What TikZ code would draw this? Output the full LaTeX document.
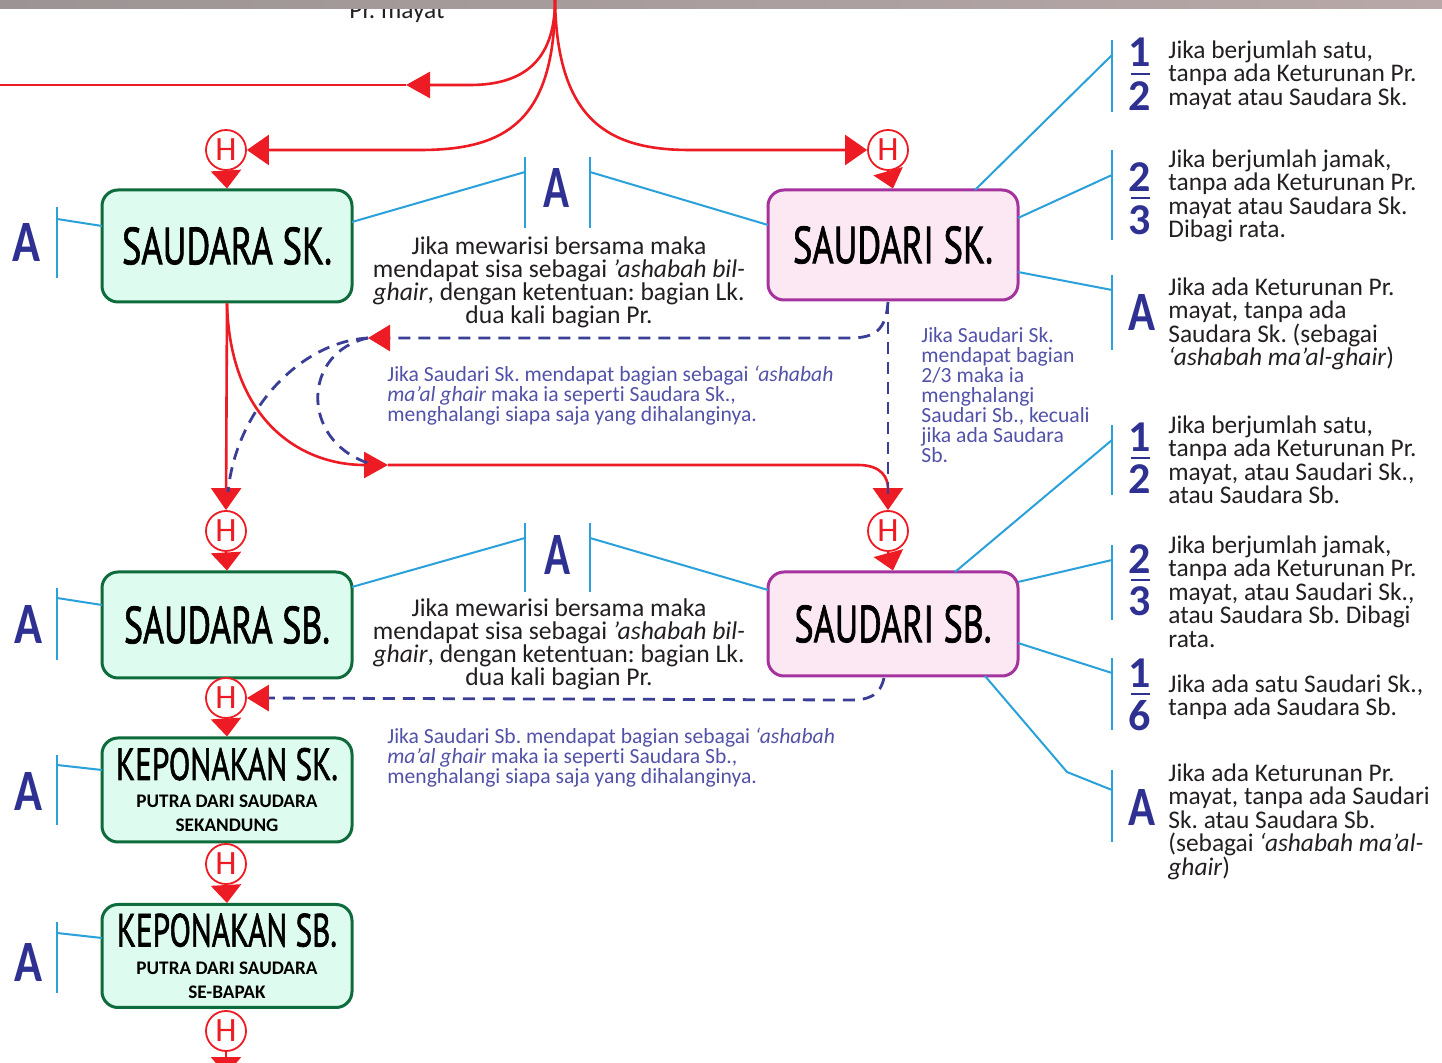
\documentclass[tikz,border=0pt]{standalone}
\usepackage{fontspec}
\setmainfont{Carlito}[Ligatures=NoCommon]
\newfontfamily\ttlfont{PT Sans}[FakeBold=1.6]
\usetikzlibrary{arrows.meta}
\frenchspacing
\definecolor{hred}{HTML}{ED1C24}
\definecolor{cyanln}{HTML}{2AA1DA}
\definecolor{navy}{HTML}{2E3192}
\definecolor{dnav}{HTML}{3A3E97}
\definecolor{bltxt}{HTML}{5252A8}
\definecolor{txt}{HTML}{231F20}
\definecolor{grnb}{HTML}{0E6B3B}
\definecolor{grnf}{HTML}{DDFBEE}
\definecolor{purb}{HTML}{A4339E}
\definecolor{purf}{HTML}{FCE8F3}
\definecolor{bandl}{HTML}{9C9494}
\definecolor{bandr}{HTML}{B8A8A8}
\newcommand\ttl[3]{\resizebox{#1}{#2}{\ttlfont #3}}
\newcommand\subt{\fontsize{9.6}{9}\selectfont\bfseries}
\begin{document}
\begin{tikzpicture}[x=0.5pt,y=-0.5pt,
  gbox/.style={draw=grnb, fill=grnf, line width=1.5pt, rounded corners=8pt, minimum width=125pt, inner sep=0pt, align=center, text=black},
  pbox/.style={gbox, draw=purb, fill=purf},
  hcirc/.style={circle, draw=hred, fill=white, line width=0.9pt, minimum size=20pt, inner sep=0pt, text=hred, font=\fontsize{17}{17}\selectfont},
  rl/.style={draw=hred, line width=1.3pt},
  hdown/.style={rl, -{Triangle[width=15pt,length=9pt]}},
  hin/.style={rl, -{Triangle[width=15pt,length=11pt]}},
  midarr/.style={rl, -{Triangle[width=13pt,length=12pt]}},
  cl/.style={draw=cyanln, line width=1pt},
  dl/.style={draw=dnav, line width=1.4pt, dash pattern=on 6pt off 4pt},
  dlarr/.style={dl, -{Triangle[width=13pt,length=11pt,color=hred,fill=hred]}},
  lettA/.style={text=navy, inner sep=0pt, font=\bfseries},
  dig/.style={text=navy, inner sep=0pt, font=\fontsize{22}{22}\selectfont\bfseries},
  fbar/.style={draw=navy, line width=1.3pt},
  rtxt/.style={anchor=north west, inner sep=0pt, align=left, text=txt, font=\fontsize{12.7}{11.8}\selectfont},
  mtxt/.style={anchor=north, inner sep=0pt, align=center, text=txt, font=\fontsize{12.8}{11.5}\selectfont},
  btxt/.style={anchor=north west, inner sep=0pt, align=left, text=bltxt, font=\fontsize{10.8}{10}\selectfont}
]
\useasboundingbox (0,0) rectangle (1442,1063);
\clip (0,0) rectangle (1442,1063);
\fill[white] (0,0) rectangle (1442,1063);

% ---------- boxes ----------
\node[gbox, minimum height=56pt] (sk) at (227,246) {\ttl{105pt}{18.5pt}{SAUDARA SK.}};
\node[pbox, minimum height=55pt] (sdk) at (893,245) {\ttl{100pt}{18.5pt}{SAUDARI SK.}};
\node[gbox, minimum height=53pt] (sb) at (227,625) {\ttl{103pt}{18.5pt}{SAUDARA SB.}};
\node[pbox, minimum height=52pt] (sdb) at (893,624) {\ttl{98.5pt}{18.5pt}{SAUDARI SB.}};
\node[gbox, minimum height=52pt] (ksk) at (227,790) {\ttl{111pt}{16pt}{KEPONAKAN SK.}\\[2pt]\subt PUTRA DARI SAUDARA\\\subt SEKANDUNG};
\node[gbox, minimum height=51.5pt] (ksb) at (227,956) {\ttl{110pt}{16.5pt}{KEPONAKAN SB.}\\[2pt]\subt PUTRA DARI SAUDARA\\\subt SE-BAPAK};

% ---------- H circles ----------
\node[hcirc] (h1) at (226,150) {H};
\node[hcirc] (h2) at (888,150) {H};
\node[hcirc] (h3) at (226,531) {H};
\node[hcirc] (h4) at (888,531) {H};
\node[hcirc] (h5) at (226,698) {H};
\node[hcirc] (h6) at (226,864) {H};
\node[hcirc] (h7) at (226,1031) {H};
\coordinate (below) at (226,1075);

\draw[hdown] (h1.south) -- (sk.north);
\draw[hdown] (h2.south) -- (sdk.north);
\draw[hdown] (h3.south) -- (sb.north);
\draw[hdown] (h4.south) -- (sdb.north);
\draw[hdown] (h5.south) -- (ksk.north);
\draw[hdown] (h6.south) -- (ksb.north);
\draw[hdown] (h7.south) -- (below);

% ---------- top text and band ----------
\node[anchor=base, inner sep=0pt, text=txt, font=\fontsize{12.7}{12}\selectfont] (prm) at (397,19) {Pr. mayat};
\shade[left color=bandl, right color=bandr] (0,0) rectangle (1442,9);

% ---------- red curves from top ----------
\coordinate (top) at (555,0);
\coordinate (a1) at (406,85);
\coordinate (lft) at (-5,85);
\draw[midarr] (top) .. controls (555,62) and (522,85) .. (470,85) -- (a1);
\draw[rl] (a1) -- (lft);
\draw[hin] (top) .. controls (555,122) and (505,150) .. (420,150) -- (h1.east);
\draw[hin] (top) .. controls (557,122) and (610,150) .. (690,150) -- (h2.west);

% red from Saudara Sk
\coordinate (a2) at (388,465);
\draw[hin] (sk.south) -- (h3.north);
\draw[midarr] (sk.south) .. controls (230,420) and (300,465) .. (a2);
\draw[hin] (a2) -- (858,465) .. controls (882,465) and (888,478) .. (h4.north);

% ---------- dashed blue ----------
\coordinate (dk) at (888,302);
\coordinate (a3) at (368,338);
\coordinate (d2e) at (228,492);
\coordinate (d3e) at (368,463);
\coordinate (dve) at (888,496);
\draw[dlarr] (dk) .. controls (886,330) and (875,338) .. (850,338) -- (a3);
\draw[dl] (dk) -- (dve);
\draw[dl] (a3) .. controls (300,342) and (236,410) .. (d2e);
\draw[dl] (a3) .. controls (302,352) and (300,440) .. (d3e);
\coordinate (db) at (884,678);
\draw[dlarr] (db) .. controls (880,695) and (870,700) .. (850,700) -- (h5.east);

% ---------- left A brackets ----------
\node[lettA] (aL1) at (26,243) {\resizebox{14pt}{19pt}{A}};
\coordinate (l1t) at (57,207); \coordinate (l1b) at (57,278); \coordinate (l1m) at (57,219); \coordinate (l1e) at (102,226);
\draw[cl] (l1t) -- (l1b); \draw[cl] (l1m) -- (l1e);
\node[lettA] (aL2) at (28,625) {\resizebox{14pt}{19pt}{A}};
\coordinate (l2t) at (57,588); \coordinate (l2b) at (57,660); \coordinate (l2m) at (57,598); \coordinate (l2e) at (102,605);
\draw[cl] (l2t) -- (l2b); \draw[cl] (l2m) -- (l2e);
\node[lettA] (aL3) at (28,792) {\resizebox{14pt}{19pt}{A}};
\coordinate (l3t) at (57,755); \coordinate (l3b) at (57,825); \coordinate (l3m) at (57,765); \coordinate (l3e) at (102,770);
\draw[cl] (l3t) -- (l3b); \draw[cl] (l3m) -- (l3e);
\node[lettA] (aL4) at (28,962) {\resizebox{14pt}{19pt}{A}};
\coordinate (l4t) at (57,922); \coordinate (l4b) at (57,993); \coordinate (l4m) at (57,933); \coordinate (l4e) at (102,938);
\draw[cl] (l4t) -- (l4b); \draw[cl] (l4m) -- (l4e);

% ---------- middle A brackets ----------
\node[lettA] (aM1) at (556,188) {\resizebox{13pt}{19.5pt}{A}};
\coordinate (m1a) at (525,157); \coordinate (m1b) at (525,228);
\coordinate (m1c) at (590,157); \coordinate (m1d) at (590,228);
\draw[cl] (m1a) -- (m1b); \draw[cl] (m1c) -- (m1d);
\coordinate (m1s) at (352,222); \coordinate (m1l) at (525,172);
\coordinate (m1r) at (590,172); \coordinate (m1e) at (768,225);
\draw[cl] (m1s) -- (m1l); \draw[cl] (m1r) -- (m1e);

\node[lettA] (aM2) at (557,555) {\resizebox{13pt}{19.5pt}{A}};
\coordinate (m2a) at (525,523); \coordinate (m2b) at (525,592);
\coordinate (m2c) at (590,523); \coordinate (m2d) at (590,592);
\draw[cl] (m2a) -- (m2b); \draw[cl] (m2c) -- (m2d);
\coordinate (m2s) at (352,587); \coordinate (m2l) at (525,538);
\coordinate (m2r) at (590,538); \coordinate (m2e) at (768,590);
\draw[cl] (m2s) -- (m2l); \draw[cl] (m2r) -- (m2e);

% ---------- middle texts ----------
\node[mtxt] (mt1) at (559,236) {Jika mewarisi bersama maka\\mendapat sisa sebagai \textit{'ashabah bil-}\\\textit{ghair}, dengan ketentuan: bagian Lk.\\dua kali bagian Pr.};
\node[mtxt] (mt2) at (559,598) {Jika mewarisi bersama maka\\mendapat sisa sebagai \textit{'ashabah bil-}\\\textit{ghair}, dengan ketentuan: bagian Lk.\\dua kali bagian Pr.};

\node[btxt] (bt1) at (387,366) {Jika Saudari Sk. mendapat bagian sebagai \textit{‘ashabah}\\\textit{ma’al ghair} maka ia seperti Saudara Sk.,\\menghalangi siapa saja yang dihalanginya.};
\node[btxt] (bt2) at (387,728) {Jika Saudari Sb. mendapat bagian sebagai \textit{‘ashabah}\\\textit{ma’al ghair} maka ia seperti Saudara Sb.,\\menghalangi siapa saja yang dihalanginya.};
\node[btxt] (bt3) at (921,327) {Jika Saudari Sk.\\mendapat bagian\\2/3 maka ia\\menghalangi\\Saudari Sb., kecuali\\jika ada Saudara\\Sb.};

% ---------- right brackets: Saudari Sk ----------
\coordinate (r1t) at (1112,40); \coordinate (r1b) at (1112,112); \coordinate (r1m) at (1112,55); \coordinate (r1s) at (975,190);
\draw[cl] (r1t) -- (r1b); \draw[cl] (r1s) -- (r1m);
\node[dig] (f1n) at (1140,52) {1}; \node[dig] (f1d) at (1140,96) {2};
\coordinate (f1l) at (1131,74); \coordinate (f1r) at (1150,74); \draw[fbar] (f1l) -- (f1r);
\node[rtxt] (t1) at (1168,40) {Jika berjumlah satu,\\tanpa ada Keturunan Pr.\\mayat atau Saudara Sk.};

\coordinate (r2t) at (1112,150); \coordinate (r2b) at (1112,240); \coordinate (r2m) at (1112,175); \coordinate (r2s) at (1018,218);
\draw[cl] (r2t) -- (r2b); \draw[cl] (r2s) -- (r2m);
\node[dig] (f2n) at (1140,177) {2}; \node[dig] (f2d) at (1140,220) {3};
\coordinate (f2l) at (1131,198); \coordinate (f2r) at (1150,198); \draw[fbar] (f2l) -- (f2r);
\node[rtxt] (t2) at (1168,149) {Jika berjumlah jamak,\\tanpa ada Keturunan Pr.\\mayat atau Saudara Sk.\\Dibagi rata.};

\coordinate (r3t) at (1112,275); \coordinate (r3b) at (1112,350); \coordinate (r3m) at (1112,290); \coordinate (r3s) at (1018,272);
\draw[cl] (r3t) -- (r3b); \draw[cl] (r3s) -- (r3m);
\node[lettA] (aR1) at (1142,313) {\resizebox{13.5pt}{18pt}{A}};
\node[rtxt] (t3) at (1168,277) {Jika ada Keturunan Pr.\\mayat, tanpa ada\\Saudara Sk. (sebagai\\\textit{‘ashabah ma’al-ghair})};

% ---------- right brackets: Saudari Sb ----------
\coordinate (r4t) at (1112,425); \coordinate (r4b) at (1112,495); \coordinate (r4m) at (1112,440); \coordinate (r4s) at (955,572);
\draw[cl] (r4t) -- (r4b); \draw[cl] (r4s) -- (r4m);
\node[dig] (f4n) at (1140,437) {1}; \node[dig] (f4d) at (1140,479) {2};
\coordinate (f4l) at (1131,458); \coordinate (f4r) at (1150,458); \draw[fbar] (f4l) -- (f4r);
\node[rtxt] (t4) at (1168,415) {Jika berjumlah satu,\\tanpa ada Keturunan Pr.\\mayat, atau Saudari Sk.,\\atau Saudara Sb.};

\coordinate (r5t) at (1112,545); \coordinate (r5b) at (1112,620); \coordinate (r5m) at (1112,560); \coordinate (r5s) at (1018,582);
\draw[cl] (r5t) -- (r5b); \draw[cl] (r5s) -- (r5m);
\node[dig] (f5n) at (1140,559) {2}; \node[dig] (f5d) at (1140,601) {3};
\coordinate (f5l) at (1131,580); \coordinate (f5r) at (1150,580); \draw[fbar] (f5l) -- (f5r);
\node[rtxt] (t5) at (1168,535) {Jika berjumlah jamak,\\tanpa ada Keturunan Pr.\\mayat, atau Saudari Sk.,\\atau Saudara Sb. Dibagi\\rata.};

\coordinate (r6t) at (1112,658); \coordinate (r6b) at (1112,730); \coordinate (r6m) at (1112,673); \coordinate (r6s) at (1018,643);
\draw[cl] (r6t) -- (r6b); \draw[cl] (r6s) -- (r6m);
\node[dig] (f6n) at (1140,673) {1}; \node[dig] (f6d) at (1140,716) {6};
\coordinate (f6l) at (1131,694); \coordinate (f6r) at (1150,694); \draw[fbar] (f6l) -- (f6r);
\node[rtxt] (t6) at (1168,674) {Jika ada satu Saudari Sk.,\\tanpa ada Saudara Sb.};

\coordinate (r7t) at (1112,770); \coordinate (r7b) at (1112,842); \coordinate (r7m) at (1112,790);
\coordinate (r7s) at (985,676); \coordinate (r7k) at (1067,772);
\draw[cl] (r7t) -- (r7b); \draw[cl] (r7s) -- (r7k) -- (r7m);
\node[lettA] (aR2) at (1142,808) {\resizebox{13.5pt}{18pt}{A}};
\node[rtxt] (t7) at (1168,763) {Jika ada Keturunan Pr.\\mayat, tanpa ada Saudari\\Sk. atau Saudara Sb.\\(sebagai \textit{‘ashabah ma’al-}\\\textit{ghair})};
\end{tikzpicture}
\end{document}
